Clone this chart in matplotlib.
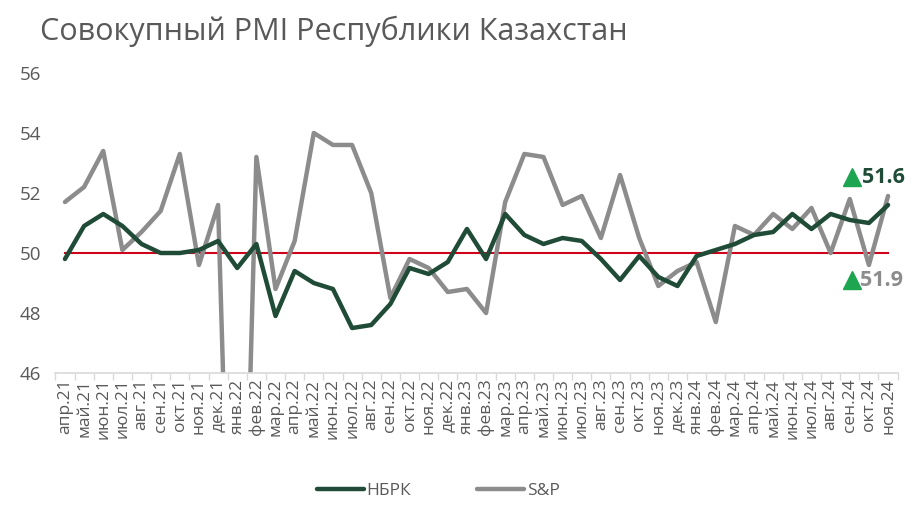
import matplotlib
matplotlib.use("Agg")
import matplotlib.pyplot as plt
import numpy as np

# Data
months = ["апр.21", "май.21", "июн.21", "июл.21", "авг.21", "сен.21", "окт.21", "ноя.21", "дек.21",
          "янв.22", "фев.22", "мар.22", "апр.22", "май.22", "июн.22", "июл.22", "авг.22", "сен.22",
          "окт.22", "ноя.22", "дек.22", "янв.23", "фев.23", "мар.23", "апр.23", "май.23", "июн.23",
          "июл.23", "авг.23", "сен.23", "окт.23", "ноя.23", "дек.23", "янв.24", "фев.24", "мар.24",
          "апр.24", "май.24", "июн.24", "июл.24", "авг.24", "сен.24", "окт.24", "ноя.24"]
nbrk = [49.8, 50.9, 51.3, 50.9, 50.3, 50.0, 50.0, 50.1, 50.4,
        49.5, 50.3, 47.9, 49.4, 49.0, 48.8, 47.5, 47.6, 48.3,
        49.5, 49.3, 49.7, 50.8, 49.8, 51.3, 50.6, 50.3, 50.5,
        50.4, 49.8, 49.1, 49.9, 49.2, 48.9, 49.9, 50.1, 50.3,
        50.6, 50.7, 51.3, 50.8, 51.3, 51.1, 51.0, 51.6]
snp = [51.7, 52.2, 53.4, 50.1, 50.7, 51.4, 53.3, 49.6, 51.6,
       30.0, 53.2, 48.8, 50.4, 54.0, 53.6, 53.6, 52.0, 48.5,
       49.8, 49.5, 48.7, 48.8, 48.0, 51.7, 53.3, 53.2, 51.6,
       51.9, 50.5, 52.6, 50.5, 48.9, 49.4, 49.7, 47.7, 50.9,
       50.6, 51.3, 50.8, 51.5, 50.0, 51.8, 49.6, 51.9]
threshold = 50
yticks = [46, 48, 50, 52, 54, 56]

GREEN = "#1f4b37"
GREY = "#8c8c8c"
RED = "#d0021b"
TEXT = "#595959"
TRI = "#1ea550"

plt.rcParams['font.family'] = ['Open Sans', 'DejaVu Sans']

fig = plt.figure(figsize=(9.23, 5.21), dpi=100)
ax = fig.add_axes([0.060, 0.284, 0.9125, 0.576])

x = np.arange(len(months))
ax.plot(x, [threshold] * len(months), color=RED, lw=1.5, zorder=1)
ax.plot(x, snp, color=GREY, lw=3.2, label="S&P", zorder=2, solid_capstyle='round')
ax.plot(x, nbrk, color=GREEN, lw=3.2, label="НБРК", zorder=3, solid_capstyle='round')

ax.set_xlim(-0.5, len(months) - 0.5)
ax.set_ylim(46, 56)
ax.set_yticks(yticks)
ax.set_yticklabels([str(t) for t in yticks], fontsize=13.5, color=TEXT)
ax.set_xticks(x)
ax.set_xticklabels(months, rotation=90, fontsize=12.5, color=TEXT)
ax.set_xticks(np.arange(-0.5, len(months)), minor=True)
ax.tick_params(axis='x', which='major', length=0, pad=4)
ax.tick_params(axis='x', which='minor', length=5, color="#d9d9d9", width=1)
ax.tick_params(axis='y', length=0, pad=10)
for s in ["top", "right", "left"]:
    ax.spines[s].set_visible(False)
ax.spines["bottom"].set_color("#d9d9d9")
ax.spines["bottom"].set_linewidth(1.2)

# Latest values with markers
ax.plot([41.12], [52.53], marker='^', markersize=13, color=TRI, clip_on=False, zorder=5)
ax.text(41.65, 52.53, f"{nbrk[-1]}", color=GREEN, fontsize=15.5, fontweight='bold',
        ha='left', va='center', clip_on=False)
ax.plot([41.12], [49.1], marker='^', markersize=13, color=TRI, clip_on=False, zorder=5)
ax.text(41.55, 49.1, f"{snp[-1]}", color=GREY, fontsize=15.5, fontweight='bold',
        ha='left', va='center', clip_on=False)

fig.text(0.043, 0.94, "Совокупный PMI Республики Казахстан", fontsize=22, color=TEXT,
         ha='left', va='center')

handles, labels = ax.get_legend_handles_labels()
fig.legend(handles[::-1], labels[::-1], loc='center', bbox_to_anchor=(0.475, 0.058), ncol=2,
           frameon=False, fontsize=12.5, labelcolor=TEXT, handlelength=2.7, handletextpad=0.15,
           columnspacing=3.8)

fig.savefig("out.png", dpi=100)
